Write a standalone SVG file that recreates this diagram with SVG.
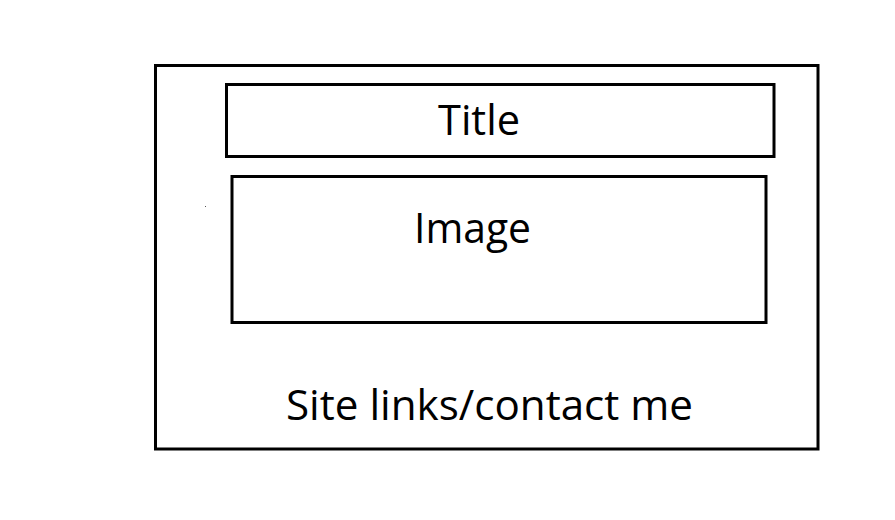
<svg xmlns="http://www.w3.org/2000/svg" width="895" height="520" viewBox="0 0 895 520">
<style>
.box{fill:none;stroke:#000;stroke-width:3}
.lbl{font-family:"Open Sans","Liberation Sans",sans-serif;font-size:42px;fill:#000;text-anchor:middle}
</style>
<rect width="895" height="520" fill="#fff"/>
<g id="page">
<rect class="box" x="155.5" y="65.5" width="662.5" height="383.5"/>
<text class="lbl" x="489.5" y="420" textLength="407" lengthAdjust="spacingAndGlyphs">Site links/contact me</text>
</g>
<g id="title">
<rect class="box" x="226.5" y="84.5" width="547.5" height="72"/>
<text class="lbl" x="479" y="135" textLength="82" lengthAdjust="spacingAndGlyphs">Title</text>
</g>
<g id="image">
<rect class="box" x="232" y="176.5" width="534" height="146"/>
<text class="lbl" x="472.5" y="243" textLength="117" lengthAdjust="spacingAndGlyphs">Image</text>
</g>
<g id="connectors"></g>
<rect x="205" y="206" width="1" height="1" fill="#555"/>
</svg>
